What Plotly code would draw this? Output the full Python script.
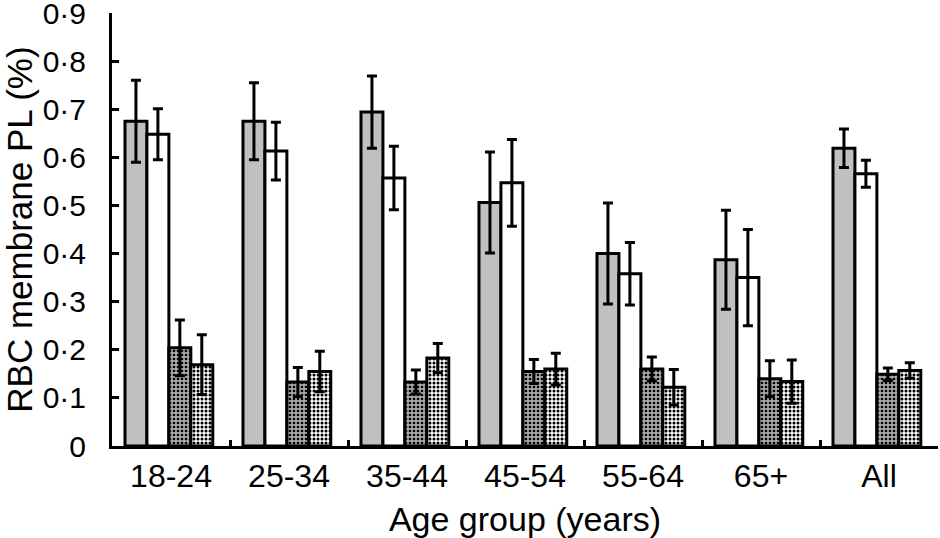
import plotly.graph_objects as go

categories = ["18-24", "25-34", "35-44", "45-54", "55-64", "65+", "All"]

# Series values (RBC membrane PL, %) and error (±)
s1_vals = [0.675, 0.675, 0.694, 0.506, 0.400, 0.387, 0.619]
s1_err = [0.085, 0.080, 0.075, 0.105, 0.105, 0.103, 0.040]
s2_vals = [0.648, 0.613, 0.557, 0.547, 0.358, 0.350, 0.566]
s2_err = [0.053, 0.060, 0.066, 0.090, 0.065, 0.100, 0.028]
s3_vals = [0.204, 0.133, 0.133, 0.155, 0.160, 0.140, 0.149]
s3_err = [0.058, 0.030, 0.025, 0.025, 0.025, 0.037, 0.013]
s4_vals = [0.169, 0.155, 0.183, 0.160, 0.122, 0.134, 0.157]
s4_err = [0.062, 0.042, 0.030, 0.033, 0.037, 0.045, 0.016]

y_tickvals = [0, 0.1, 0.2, 0.3, 0.4, 0.5, 0.6, 0.7, 0.8, 0.9]
y_ticktext = ["0", "0·1", "0·2", "0·3", "0·4", "0·5", "0·6", "0·7", "0·8", "0·9"]

FONT = "Liberation Sans, Arial, sans-serif"
BAR_W = 0.186

def err(e):
    return dict(type="data", array=e, visible=True, color="black",
                thickness=3, width=5)

series = [
    (s1_vals, s1_err, dict(color="#c0c0c0"), -0.39),
    (s2_vals, s2_err, dict(color="white"), -0.204),
    (s3_vals, s3_err, dict(color="#a8a8a8",
                           pattern=dict(shape=".", fgcolor="black", size=4,
                                        solidity=0.35, fillmode="replace",
                                        bgcolor="#a8a8a8")), -0.018),
    (s4_vals, s4_err, dict(color="white",
                           pattern=dict(shape=".", fgcolor="black", size=4,
                                        solidity=0.45, fillmode="replace",
                                        bgcolor="white")), 0.168),
]

fig = go.Figure()
for vals, e, mk, off in series:
    mk = dict(mk)
    mk["line"] = dict(color="black", width=3)
    fig.add_trace(go.Bar(x=categories, y=vals, error_y=err(e), marker=mk,
                         width=BAR_W, offset=off, showlegend=False,
                         hoverinfo="skip"))

fig.update_layout(
    width=940, height=538,
    margin=dict(l=112, r=2, t=13, b=92),
    paper_bgcolor="white", plot_bgcolor="white",
    barmode="overlay",
    font=dict(family=FONT, color="black", size=30),
    xaxis=dict(
        type="category", range=[-0.5, 6.5], automargin=False,
        showline=True, linecolor="black", linewidth=3,
        ticks="inside", tickson="boundaries", ticklen=6, tickwidth=3,
        tickcolor="black", tickfont=dict(size=32), ticklabelstandoff=0,
        showgrid=False, zeroline=False,
        title=dict(text="Age group (years)", font=dict(size=34), standoff=14),
    ),
    yaxis=dict(
        range=[0, 0.9], tickvals=y_tickvals, ticktext=y_ticktext,
        automargin=False, ticklabeloverflow="allow",
        showline=True, linecolor="black", linewidth=3,
        ticks="inside", ticklen=7, tickwidth=3, tickcolor="black",
        tickfont=dict(size=30), ticklabelstandoff=17,
        showgrid=False, zeroline=False,
        title=dict(text="RBC membrane PL (%)", font=dict(size=35), standoff=5),
    ),
)

fig.write_html(
    "out.html",
    config={"displayModeBar": False, "staticPlot": True},
    post_script="document.body.style.margin='0';document.body.style.overflow='hidden';",
)
